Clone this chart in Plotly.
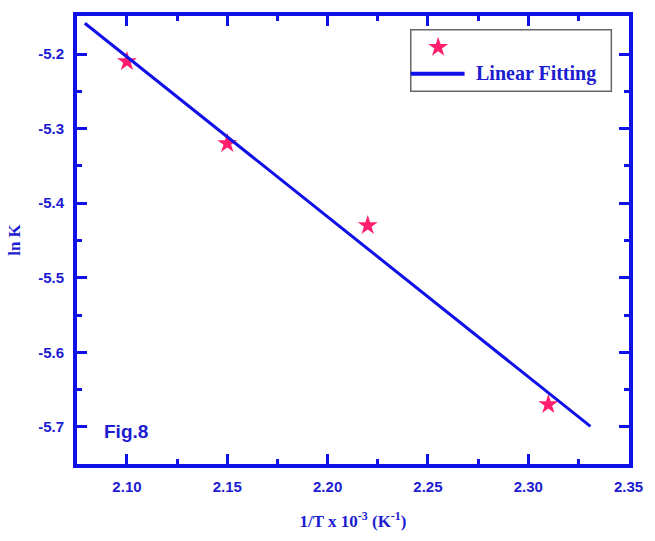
import numpy as np
import plotly.graph_objects as go

# Measured rate constants
inv_T = [2.10, 2.15, 2.22, 2.31]          # 1/T x 10^-3 (K^-1)
ln_K = [-5.21, -5.32, -5.43, -5.67]

# Span of the fitted line
fit_x = [2.079, 2.331]

# Axis tick labels
x_ticks = [2.10, 2.15, 2.20, 2.25, 2.30, 2.35]
x_ticktext = ["2.10", "2.15", "2.20", "2.25", "2.30", "2.35"]
y_ticks = [-5.2, -5.3, -5.4, -5.5, -5.6, -5.7]
y_ticktext = ["-5.2", "-5.3", "-5.4", "-5.5", "-5.6", "-5.7"]

slope, intercept = np.polyfit(inv_T, ln_K, 1)
fit_y = [slope * x + intercept for x in fit_x]

BLUE = "#1010e8"
TEXT_BLUE = "#1c1cd0"
PINK = "#ff1f6e"
SANS = "Liberation Sans, Arial, sans-serif"
SERIF = "Liberation Serif, Times New Roman, serif"

fig = go.Figure()
fig.add_trace(go.Scatter(
    x=inv_T, y=ln_K, mode="markers", showlegend=False,
    marker=dict(symbol="star", size=15, color=PINK, line=dict(width=0)),
))
fig.add_trace(go.Scatter(
    x=fit_x, y=fit_y, mode="lines", showlegend=False,
    line=dict(color=BLUE, width=3),
))

# Legend key: star drawn on a hidden overlay axis spanning the plot area
fig.add_trace(go.Scatter(
    x=[0.6543], y=[0.9301], xaxis="x2", yaxis="y2", mode="markers",
    showlegend=False, hoverinfo="skip",
    marker=dict(symbol="star", size=15, color=PINK, line=dict(width=0)),
))

axis_common = dict(
    showline=True, linecolor=BLUE, linewidth=4, mirror="ticks",
    ticks="inside", ticklen=10, tickwidth=3, tickcolor=BLUE,
    showgrid=False, zeroline=False, ticklabelstandoff=6,
    tickfont=dict(family=SANS, size=15, color=TEXT_BLUE, weight="bold"),
)

fig.update_xaxes(
    range=[2.0751, 2.3502], tickvals=x_ticks, ticktext=x_ticktext,
    minor=dict(dtick=0.025, tick0=2.075, ticks="inside", ticklen=5, tickwidth=3, tickcolor=BLUE),
    title=dict(text="<b>1/T x 10<sup>-3</sup> (K<sup>-1</sup>)</b>", standoff=22,
               font=dict(family=SERIF, size=17, color=TEXT_BLUE)),
    **axis_common,
)
fig.update_yaxes(
    range=[-5.7499, -5.1488], tickvals=y_ticks, ticktext=y_ticktext,
    minor=dict(dtick=0.05, tick0=-5.75, ticks="inside", ticklen=5, tickwidth=3, tickcolor=BLUE),
    title=dict(text="<b>ln K</b>", standoff=14,
               font=dict(family=SERIF, size=17, color=TEXT_BLUE)),
    **axis_common,
)

fig.update_layout(
    xaxis2=dict(overlaying="x", range=[0, 1], visible=False, fixedrange=True),
    yaxis2=dict(overlaying="y", range=[0, 1], visible=False, fixedrange=True),
)

# Legend frame, line key and label
fig.add_shape(type="rect", xref="paper", yref="paper",
              x0=0.6046, x1=0.968, y0=0.8319, y1=0.9694,
              line=dict(color="#666666", width=1.5), fillcolor="rgba(0,0,0,0)")
fig.add_shape(type="line", xref="paper", yref="paper",
              x0=0.6046, x1=0.7021, y0=0.8712, y1=0.8712,
              line=dict(color=BLUE, width=4))
fig.add_annotation(
    xref="paper", yref="paper", x=0.7199, y=0.8712, xanchor="left", yanchor="middle",
    text="<b>Linear Fitting</b>", showarrow=False,
    font=dict(family=SERIF, size=20, color=TEXT_BLUE),
)

fig.add_annotation(
    xref="paper", yref="paper", x=0.045, y=0.072, xanchor="left", yanchor="middle",
    text="<b>Fig.8</b>", showarrow=False,
    font=dict(family=SANS, size=19, color=TEXT_BLUE),
)

fig.update_layout(
    width=655, height=541,
    margin=dict(l=72, r=19, t=12, b=71),
    paper_bgcolor="white", plot_bgcolor="white",
    showlegend=False,
)

fig.write_html("out.html")
